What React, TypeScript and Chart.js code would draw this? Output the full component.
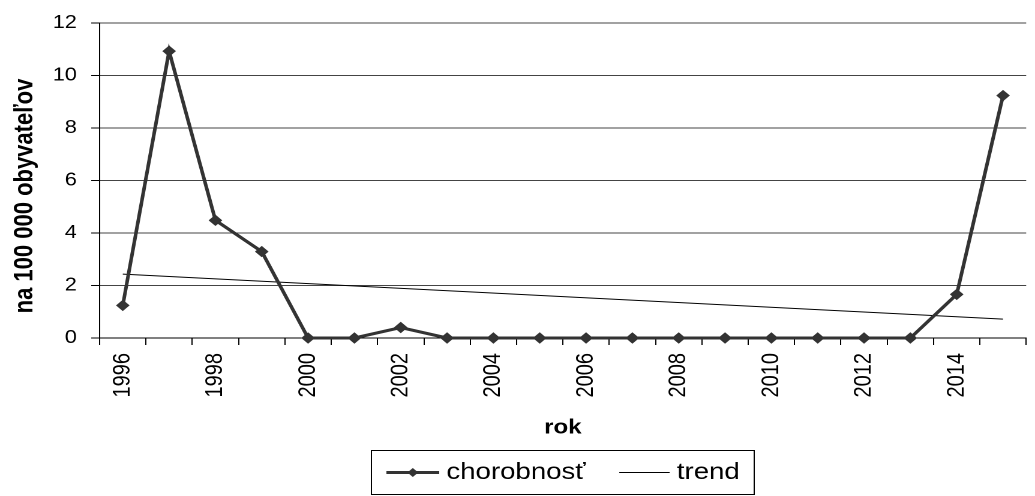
import React, { useEffect, useRef } from 'react';
import { Chart, registerables } from 'chart.js';

Chart.register(...registerables);

// ---- data ----
const years = ['1996', '1997', '1998', '1999', '2000', '2001', '2002', '2003', '2004', '2005',
  '2006', '2007', '2008', '2009', '2010', '2011', '2012', '2013', '2014', '2015'];
const incidence = [1.24, 10.92, 4.48, 3.29, 0, 0, 0.4, 0, 0, 0, 0, 0, 0, 0, 0, 0, 0, 0, 1.66, 9.23];
const trendStart = 2.43;
const trendEnd = 0.72;
const trend = years.map((_, i) => (i === 0 ? trendStart : i === years.length - 1 ? trendEnd : null));
const yMin = 0;
const yMax = 12;
const yStep = 2;
const seriesLabel = 'chorobnosť';
const trendLabel = 'trend';
const xTitle = 'rok';
const yTitle = 'na 100 000 obyvateľov';

// ---- layout (internal canvas units; canvas is stretched horizontally) ----
const STRETCH = 1.2;
const W = 868;
const H = 496;
const FAMILY = '"Liberation Sans", Arial, Helvetica, sans-serif';
const LINE_COLOR = '#333333';

const customPlugin = {
  id: 'customDecor',
  afterDraw(chart: any) {
    const { ctx, chartArea } = chart;
    ctx.save();
    // y-axis title
    ctx.fillStyle = '#000';
    ctx.font = `bold 22px ${FAMILY}`;
    ctx.textAlign = 'center';
    ctx.textBaseline = 'middle';
    ctx.translate(21, 196);
    ctx.rotate(-Math.PI / 2);
    ctx.fillText(yTitle, 0, 0);
    ctx.restore();

    // legend
    ctx.save();
    ctx.font = `23px ${FAMILY}`;
    const sample = 44, gap = 6, itemGap = 28, padL = 13, padR = 10;
    const w1 = ctx.measureText(seriesLabel).width;
    const w2 = ctx.measureText(trendLabel).width;
    const total = padL + sample + gap + w1 + itemGap + sample + gap + w2 + padR;
    const cx = (chartArea.left + chartArea.right) / 2;
    const boxH = 44;
    const top = chart.height - 46;
    let x = Math.round(cx - total / 2);
    ctx.strokeStyle = '#000';
    ctx.lineWidth = 1;
    ctx.strokeRect(x + 0.5, top + 0.5, Math.round(total), boxH);
    const cy = top + boxH / 2 + 0.5;
    x += padL;
    // series sample
    ctx.strokeStyle = LINE_COLOR;
    ctx.lineWidth = 3;
    ctx.beginPath();
    ctx.moveTo(x, cy);
    ctx.lineTo(x + sample, cy);
    ctx.stroke();
    const dx = x + sample / 2, r = 4.5;
    ctx.fillStyle = LINE_COLOR;
    ctx.beginPath();
    ctx.moveTo(dx, cy - r);
    ctx.lineTo(dx + r, cy);
    ctx.lineTo(dx, cy + r);
    ctx.lineTo(dx - r, cy);
    ctx.closePath();
    ctx.fill();
    x += sample + gap;
    ctx.fillStyle = '#000';
    ctx.textAlign = 'left';
    ctx.textBaseline = 'middle';
    ctx.fillText(seriesLabel, x, cy);
    x += w1 + itemGap;
    // trend sample
    ctx.strokeStyle = '#000';
    ctx.lineWidth = 1;
    ctx.beginPath();
    ctx.moveTo(x, cy);
    ctx.lineTo(x + sample - 2, cy);
    ctx.stroke();
    x += sample + gap - 2;
    ctx.fillText(trendLabel, x, cy);
    ctx.restore();
  },
};

export default function App() {
  const canvasRef = useRef<HTMLCanvasElement | null>(null);

  useEffect(() => {
    if (!canvasRef.current) return;
    const chart = new Chart(canvasRef.current, {
      type: 'line',
      data: {
        labels: years,
        datasets: [
          {
            label: seriesLabel,
            data: incidence,
            borderColor: LINE_COLOR,
            backgroundColor: LINE_COLOR,
            borderWidth: 3,
            pointStyle: 'rectRot',
            pointRadius: 5,
            pointBackgroundColor: LINE_COLOR,
            pointBorderColor: LINE_COLOR,
            pointBorderWidth: 1,
            tension: 0,
            clip: false as any,
          },
          {
            label: trendLabel,
            data: trend,
            borderColor: '#000',
            borderWidth: 1,
            pointRadius: 0,
            spanGaps: true,
            tension: 0,
          },
        ],
      },
      options: {
        responsive: false,
        animation: false,
        devicePixelRatio: 2,
        events: [],
        layout: { padding: { left: 0, right: 0, top: 19, bottom: 51 } },
        plugins: {
          legend: { display: false },
          tooltip: { enabled: false },
          title: { display: false },
        },
        scales: {
          x: {
            type: 'category',
            offset: true,
            grid: {
              offset: true,
              drawOnChartArea: false,
              drawTicks: true,
              tickLength: 7,
              tickColor: '#000',
              tickWidth: 1,
            },
            border: { display: true, color: '#000', width: 1 },
            ticks: {
              autoSkip: false,
              maxRotation: 90,
              minRotation: 90,
              padding: 8,
              color: '#000',
              font: { family: FAMILY, size: 20 },
              callback: (_v: any, i: number) => (i % 2 === 0 ? years[i] : ''),
            },
            title: {
              display: true,
              text: xTitle,
              color: '#000',
              font: { family: FAMILY, size: 20, weight: 'bold' },
              padding: { top: 0, bottom: 5 },
            },
            afterFit: (s: any) => {
              s.height = 107;
            },
          },
          y: {
            min: yMin,
            max: yMax,
            ticks: {
              stepSize: yStep,
              padding: 12,
              color: '#000',
              font: { family: FAMILY, size: 18 },
            },
            grid: {
              color: '#444',
              lineWidth: 1,
              drawTicks: true,
              tickLength: 7,
              tickColor: '#000',
            },
            border: { display: true, color: '#000', width: 1 },
            afterFit: (s: any) => {
              s.width = 83;
            },
          },
        },
      } as any,
      plugins: [customPlugin],
    });
    return () => chart.destroy();
  }, []);

  return (
    <div
      style={{
        position: 'fixed',
        left: 0,
        top: 0,
        width: 1035,
        height: H,
        overflow: 'hidden',
        background: '#fff',
      }}
    >
      <div
        style={{
          width: W,
          height: H,
          transform: `scaleX(${STRETCH})`,
          transformOrigin: '0 0',
        }}
      >
        <canvas ref={canvasRef} width={W} height={H} style={{ width: W, height: H, display: 'block' }} />
      </div>
    </div>
  );
}
